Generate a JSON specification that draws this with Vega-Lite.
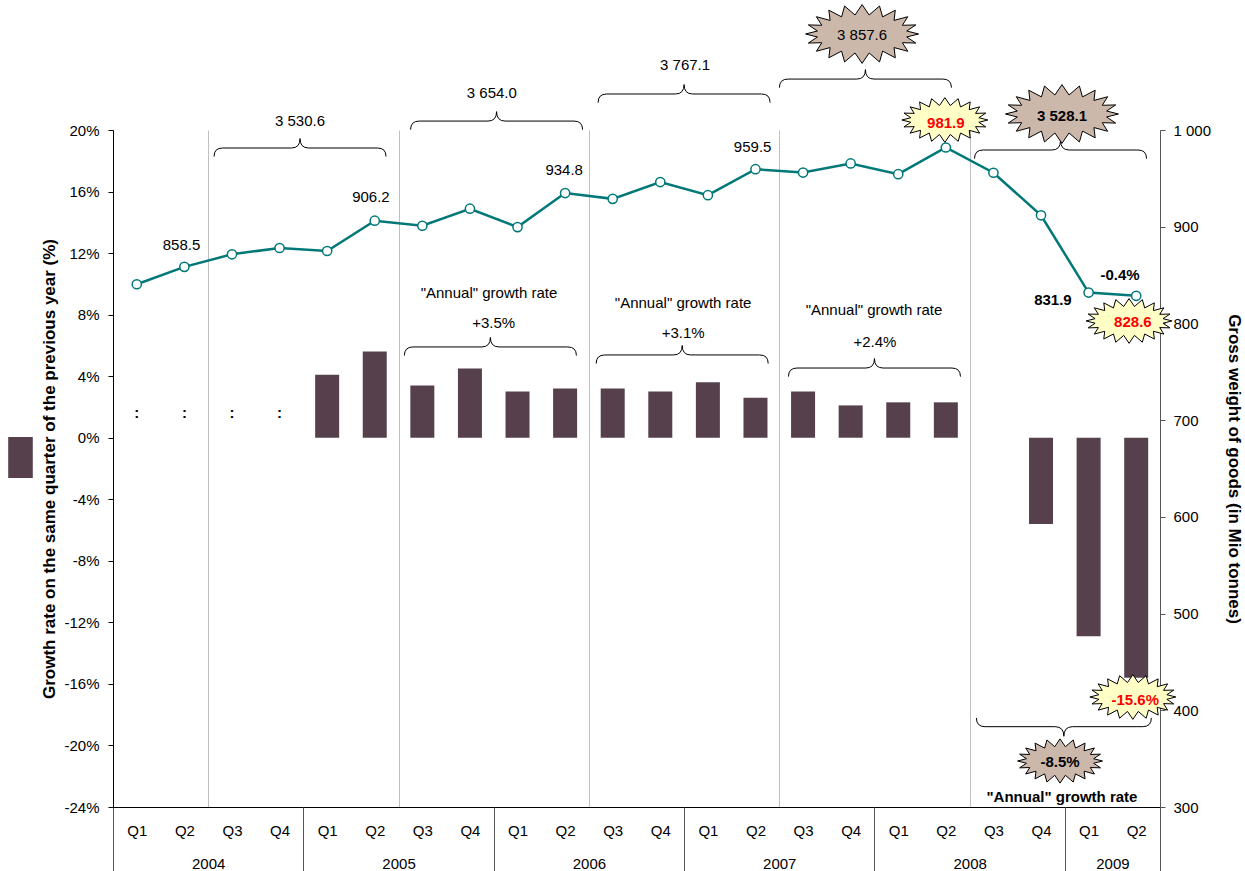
{
  "$schema": "https://vega.github.io/schema/vega-lite/v6.json",
  "width": 1047,
  "height": 677,
  "autosize": {"type": "none"},
  "padding": {"left": 113, "top": 130, "right": 85, "bottom": 64},
  "background": "white",
  "config": {
    "font": "Liberation Sans",
    "view": {"stroke": null},
    "scale": {"continuousPadding": 0},
    "axis": {"labelFont": "Liberation Sans", "titleFont": "Liberation Sans", "labelFontSize": 15, "labelColor": "#000000", "titleColor": "#000000"}
  },
  "datasets": {
    "quarters": [
      {"t": 0, "year": 2004, "q": "Q1", "growth": null, "weight": 840.5},
      {"t": 1, "year": 2004, "q": "Q2", "growth": null, "weight": 858.5},
      {"t": 2, "year": 2004, "q": "Q3", "growth": null, "weight": 871.5},
      {"t": 3, "year": 2004, "q": "Q4", "growth": null, "weight": 878.0},
      {"t": 4, "year": 2005, "q": "Q1", "growth": 4.1, "weight": 874.9},
      {"t": 5, "year": 2005, "q": "Q2", "growth": 5.6, "weight": 906.2},
      {"t": 6, "year": 2005, "q": "Q3", "growth": 3.4, "weight": 901.0},
      {"t": 7, "year": 2005, "q": "Q4", "growth": 4.5, "weight": 918.6},
      {"t": 8, "year": 2006, "q": "Q1", "growth": 3.0, "weight": 899.6},
      {"t": 9, "year": 2006, "q": "Q2", "growth": 3.2, "weight": 934.8},
      {"t": 10, "year": 2006, "q": "Q3", "growth": 3.2, "weight": 928.8},
      {"t": 11, "year": 2006, "q": "Q4", "growth": 3.0, "weight": 946.2},
      {"t": 12, "year": 2007, "q": "Q1", "growth": 3.6, "weight": 932.6},
      {"t": 13, "year": 2007, "q": "Q2", "growth": 2.6, "weight": 959.5},
      {"t": 14, "year": 2007, "q": "Q3", "growth": 3.0, "weight": 956.0},
      {"t": 15, "year": 2007, "q": "Q4", "growth": 2.1, "weight": 965.4},
      {"t": 16, "year": 2008, "q": "Q1", "growth": 2.3, "weight": 954.3},
      {"t": 17, "year": 2008, "q": "Q2", "growth": 2.3, "weight": 981.9},
      {"t": 18, "year": 2008, "q": "Q3", "growth": 0.0, "weight": 955.8},
      {"t": 19, "year": 2008, "q": "Q4", "growth": -5.6, "weight": 911.8},
      {"t": 20, "year": 2009, "q": "Q1", "growth": -12.9, "weight": 831.9},
      {"t": 21, "year": 2009, "q": "Q2", "growth": -15.6, "weight": 828.6}
    ],
    "notes": [
      {"kind": "brace_up", "t": 3.43, "v": 18.83},
      {"kind": "brace_up", "t": 7.56, "v": 20.58},
      {"kind": "brace_up", "t": 11.5, "v": 22.34},
      {"kind": "brace_up", "t": 15.31, "v": 23.31},
      {"kind": "brace_up", "t": 19.41, "v": 18.7},
      {"kind": "brace_up", "t": 7.43, "v": 5.9},
      {"kind": "brace_up", "t": 11.46, "v": 5.38},
      {"kind": "brace_up", "t": 15.5, "v": 4.53},
      {"kind": "brace_down", "t": 19.48, "v": -18.78},
      {"kind": "star_tan_big", "t": 15.24, "v": 26.24},
      {"kind": "star_tan_big", "t": 19.44, "v": 21.04},
      {"kind": "star_tan", "t": 19.4, "v": -21.01},
      {"kind": "star_yellow", "t": 16.98, "v": 20.65},
      {"kind": "star_yellow", "t": 20.85, "v": 7.59},
      {"kind": "star_yellow", "t": 20.93, "v": -16.85},
      {"kind": "text", "t": 3.43, "v": 20.58, "label": "3 530.6"},
      {"kind": "text", "t": 7.46, "v": 22.42, "label": "3 654.0"},
      {"kind": "text", "t": 11.52, "v": 24.22, "label": "3 767.1"},
      {"kind": "text", "t": 15.24, "v": 26.2, "label": "3 857.6"},
      {"kind": "text", "t": 0.94, "v": 12.53, "label": "858.5"},
      {"kind": "text", "t": 4.92, "v": 15.66, "label": "906.2"},
      {"kind": "text", "t": 8.98, "v": 17.4, "label": "934.8"},
      {"kind": "text", "t": 12.94, "v": 18.92, "label": "959.5"},
      {"kind": "text", "t": 7.4, "v": 9.43, "label": "\"Annual\" growth rate"},
      {"kind": "text", "t": 7.5, "v": 7.48, "label": "+3.5%"},
      {"kind": "text", "t": 11.48, "v": 8.78, "label": "\"Annual\" growth rate"},
      {"kind": "text", "t": 11.48, "v": 6.81, "label": "+3.1%"},
      {"kind": "text", "t": 15.49, "v": 8.3, "label": "\"Annual\" growth rate"},
      {"kind": "text", "t": 15.51, "v": 6.24, "label": "+2.4%"},
      {"kind": "bold", "t": 19.44, "v": 20.91, "label": "3 528.1"},
      {"kind": "bold", "t": 19.4, "v": -21.08, "label": "-8.5%"},
      {"kind": "bold", "t": 19.44, "v": -23.35, "label": "\"Annual\" growth rate"},
      {"kind": "bold", "t": 19.25, "v": 8.95, "label": "831.9"},
      {"kind": "bold", "t": 20.66, "v": 10.58, "label": "-0.4%"},
      {"kind": "red", "t": 17.0, "v": 20.45, "label": "981.9"},
      {"kind": "red", "t": 20.93, "v": 7.52, "label": "828.6"},
      {"kind": "red", "t": 20.98, "v": -17.05, "label": "-15.6%"}
    ]
  },
  "resolve": {"scale": {"y": "independent"}, "axis": {"x": "independent", "y": "independent"}},
  "layer": [
    {
      "data": {"name": "quarters"},
      "mark": {"type": "bar", "size": 24, "orient": "vertical"},
      "encoding": {
        "x": {"field": "t", "type": "quantitative", "scale": {"domain": [-0.5, 21.5], "nice": false, "zero": false},
          "axis": {"orient": "bottom", "values": [0,1,2,3,4,5,6,7,8,9,10,11,12,13,14,15,16,17,18,19,20,21], "labelExpr": "'Q' + (datum.value % 4 + 1)", "ticks": false, "tickSize": 0, "labelPadding": 16, "labelFlush": false, "labelOverlap": false, "domainColor": "#000000", "grid": false, "title": null}},
        "y": {"field": "growth", "type": "quantitative", "scale": {"domain": [-24, 20], "nice": false, "zero": false},
          "axis": {"orient": "left", "values": [-24,-20,-16,-12,-8,-4,0,4,8,12,16,20], "labelExpr": "datum.value + '%'", "grid": false, "tickSize": 5, "labelPadding": 9, "domainColor": "#000000", "tickColor": "#000000", "title": "Growth rate on the same quarter of the previous year (%)", "titleFontSize": 17, "titleFontWeight": "bold", "titlePadding": 5}},
        "color": {"datum": "Growth rate on the same quarter of the previous year", "scale": {"range": ["#55404C"]},
          "legend": {"orient": "none", "legendX": -113, "legendY": 307, "title": null, "symbolType": "M-0.6 -1 L0.6 -1 L0.6 1 L-0.6 1 Z", "symbolSize": 1681, "symbolStrokeWidth": 0, "symbolOpacity": 1, "labelExpr": "''", "padding": 0}}
      }
    },
    {
      "data": {"name": "quarters"},
      "mark": {"type": "line", "color": "#007878", "strokeWidth": 2.5},
      "encoding": {
        "x": {"field": "t", "type": "quantitative", "scale": {"domain": [-0.5, 21.5], "nice": false, "zero": false},
          "axis": {"orient": "bottom", "values": [-0.5, 3.5, 7.5, 11.5, 15.5, 19.5, 21.5], "labels": false, "domain": false, "ticks": true, "tickSize": 66, "tickColor": "#555555", "grid": false, "title": null}},
        "y": {"field": "weight", "type": "quantitative", "scale": {"domain": [300, 1000], "nice": false, "zero": false},
          "axis": {"orient": "right", "values": [300,400,500,600,700,800,900,1000], "labelExpr": "replace(format(datum.value, ','), ',', ' ')", "grid": false, "tickSize": 5, "labelPadding": 8, "domainColor": "#555555", "tickColor": "#555555", "title": "Gross weight of goods (in Mio tonnes)", "titleFontSize": 17, "titleFontWeight": "bold", "titlePadding": 14}}
      }
    },
    {
      "data": {"name": "quarters"},
      "mark": {"type": "point", "shape": "circle", "filled": true, "fill": "white", "stroke": "#007878", "strokeWidth": 1.5, "size": 85, "opacity": 1},
      "encoding": {
        "x": {"field": "t", "type": "quantitative", "scale": {"domain": [-0.5, 21.5], "nice": false, "zero": false},
          "axis": {"orient": "bottom", "values": [1.5, 5.5, 9.5, 13.5, 17.5, 20.5], "labelExpr": "'' + (2004 + floor((datum.value + 0.5) / 4))", "ticks": false, "tickSize": 0, "domain": false, "labelPadding": 49, "labelFlush": false, "labelOverlap": false, "grid": true, "gridColor": {"condition": {"test": "datum.value > 20", "value": "transparent"}, "value": "#BFBFBF"}, "title": null}},
        "y": {"field": "weight", "type": "quantitative", "scale": {"domain": [300, 1000], "nice": false, "zero": false}, "axis": null}
      }
    },
    {
      "layer": [
        {
          "mark": {"type": "rule", "color": "#555555", "strokeWidth": 1},
          "encoding": {"y": {"datum": 0, "type": "quantitative", "scale": {"domain": [-24, 20], "nice": false, "zero": false}, "axis": null}}
        },
        {
          "data": {"name": "quarters"},
          "transform": [{"filter": "datum.growth == null"}],
          "mark": {"type": "text", "fontSize": 15, "fontWeight": "bold", "align": "center", "baseline": "middle", "color": "#000000"},
          "encoding": {
            "x": {"field": "t", "type": "quantitative", "scale": {"domain": [-0.5, 21.5], "nice": false, "zero": false}, "axis": null},
            "y": {"datum": 1.6, "type": "quantitative", "scale": {"domain": [-24, 20], "nice": false, "zero": false}, "axis": null},
            "text": {"value": ":"}
          }
        },
        {
          "data": {"name": "notes"},
          "transform": [{"filter": "datum.kind == 'brace_up'"}],
          "mark": {"type": "point", "shape": "M-1 0.1 Q-1 0 -0.9 0 L-0.1 0 Q0 0 0 -0.11 Q0 0 0.1 0 L0.9 0 Q1 0 1 0.1", "filled": false, "color": "#000000", "strokeWidth": 1, "size": 29584, "opacity": 1},
          "encoding": {
            "x": {"field": "t", "type": "quantitative", "scale": {"domain": [-0.5, 21.5], "nice": false, "zero": false}, "axis": null},
            "y": {"field": "v", "type": "quantitative", "scale": {"domain": [-24, 20], "nice": false, "zero": false}, "axis": null}
          }
        },
        {
          "data": {"name": "notes"},
          "transform": [{"filter": "datum.kind == 'brace_down'"}],
          "mark": {"type": "point", "shape": "M-1 -0.1 Q-1 0 -0.9 0 L-0.1 0 Q0 0 0 0.11 Q0 0 0.1 0 L0.9 0 Q1 0 1 -0.1", "filled": false, "color": "#000000", "strokeWidth": 1, "size": 30625, "opacity": 1},
          "encoding": {
            "x": {"field": "t", "type": "quantitative", "scale": {"domain": [-0.5, 21.5], "nice": false, "zero": false}, "axis": null},
            "y": {"field": "v", "type": "quantitative", "scale": {"domain": [-24, 20], "nice": false, "zero": false}, "axis": null}
          }
        },
        {
          "data": {"name": "notes"},
          "transform": [{"filter": "datum.kind == 'star_tan_big'"}],
          "mark": {"type": "point", "shape": "M1 0L0.79 0.053L0.951 0.161L0.713 0.154L0.809 0.306L0.566 0.24L0.588 0.421L0.363 0.303L0.309 0.495L0.125 0.336L0 0.52L-0.125 0.336L-0.309 0.495L-0.363 0.303L-0.588 0.421L-0.566 0.24L-0.809 0.306L-0.713 0.154L-0.951 0.161L-0.79 0.053L-1 0L-0.79 -0.053L-0.951 -0.161L-0.713 -0.154L-0.809 -0.306L-0.566 -0.24L-0.588 -0.421L-0.363 -0.303L-0.309 -0.495L-0.125 -0.336L0 -0.52L0.125 -0.336L0.309 -0.495L0.363 -0.303L0.588 -0.421L0.566 -0.24L0.809 -0.306L0.713 -0.154L0.951 -0.161L0.79 -0.053Z", "filled": true, "fill": "#CCB8AB", "stroke": "#000000", "strokeWidth": 1, "size": 12769, "opacity": 1},
          "encoding": {
            "x": {"field": "t", "type": "quantitative", "scale": {"domain": [-0.5, 21.5], "nice": false, "zero": false}, "axis": null},
            "y": {"field": "v", "type": "quantitative", "scale": {"domain": [-24, 20], "nice": false, "zero": false}, "axis": null}
          }
        },
        {
          "data": {"name": "notes"},
          "transform": [{"filter": "datum.kind == 'star_tan'"}],
          "mark": {"type": "point", "shape": "M1 0L0.79 0.053L0.951 0.161L0.713 0.154L0.809 0.306L0.566 0.24L0.588 0.421L0.363 0.303L0.309 0.495L0.125 0.336L0 0.52L-0.125 0.336L-0.309 0.495L-0.363 0.303L-0.588 0.421L-0.566 0.24L-0.809 0.306L-0.713 0.154L-0.951 0.161L-0.79 0.053L-1 0L-0.79 -0.053L-0.951 -0.161L-0.713 -0.154L-0.809 -0.306L-0.566 -0.24L-0.588 -0.421L-0.363 -0.303L-0.309 -0.495L-0.125 -0.336L0 -0.52L0.125 -0.336L0.309 -0.495L0.363 -0.303L0.588 -0.421L0.566 -0.24L0.809 -0.306L0.713 -0.154L0.951 -0.161L0.79 -0.053Z", "filled": true, "fill": "#CCB8AB", "stroke": "#000000", "strokeWidth": 1, "size": 7225, "opacity": 1},
          "encoding": {
            "x": {"field": "t", "type": "quantitative", "scale": {"domain": [-0.5, 21.5], "nice": false, "zero": false}, "axis": null},
            "y": {"field": "v", "type": "quantitative", "scale": {"domain": [-24, 20], "nice": false, "zero": false}, "axis": null}
          }
        },
        {
          "data": {"name": "notes"},
          "transform": [{"filter": "datum.kind == 'star_yellow'"}],
          "mark": {"type": "point", "shape": "M1 0L0.79 0.053L0.951 0.161L0.713 0.154L0.809 0.306L0.566 0.24L0.588 0.421L0.363 0.303L0.309 0.495L0.125 0.336L0 0.52L-0.125 0.336L-0.309 0.495L-0.363 0.303L-0.588 0.421L-0.566 0.24L-0.809 0.306L-0.713 0.154L-0.951 0.161L-0.79 0.053L-1 0L-0.79 -0.053L-0.951 -0.161L-0.713 -0.154L-0.809 -0.306L-0.566 -0.24L-0.588 -0.421L-0.363 -0.303L-0.309 -0.495L-0.125 -0.336L0 -0.52L0.125 -0.336L0.309 -0.495L0.363 -0.303L0.588 -0.421L0.566 -0.24L0.809 -0.306L0.713 -0.154L0.951 -0.161L0.79 -0.053Z", "filled": true, "fill": "#FFFFC6", "stroke": "#000000", "strokeWidth": 1, "size": 7396, "opacity": 1},
          "encoding": {
            "x": {"field": "t", "type": "quantitative", "scale": {"domain": [-0.5, 21.5], "nice": false, "zero": false}, "axis": null},
            "y": {"field": "v", "type": "quantitative", "scale": {"domain": [-24, 20], "nice": false, "zero": false}, "axis": null}
          }
        },
        {
          "data": {"name": "notes"},
          "transform": [{"filter": "datum.kind == 'text'"}],
          "mark": {"type": "text", "fontSize": 15, "align": "center", "baseline": "middle", "color": "#000000"},
          "encoding": {
            "x": {"field": "t", "type": "quantitative", "scale": {"domain": [-0.5, 21.5], "nice": false, "zero": false}, "axis": null},
            "y": {"field": "v", "type": "quantitative", "scale": {"domain": [-24, 20], "nice": false, "zero": false}, "axis": null},
            "text": {"field": "label"}
          }
        },
        {
          "data": {"name": "notes"},
          "transform": [{"filter": "datum.kind == 'bold'"}],
          "mark": {"type": "text", "fontSize": 15, "fontWeight": "bold", "align": "center", "baseline": "middle", "color": "#000000"},
          "encoding": {
            "x": {"field": "t", "type": "quantitative", "scale": {"domain": [-0.5, 21.5], "nice": false, "zero": false}, "axis": null},
            "y": {"field": "v", "type": "quantitative", "scale": {"domain": [-24, 20], "nice": false, "zero": false}, "axis": null},
            "text": {"field": "label"}
          }
        },
        {
          "data": {"name": "notes"},
          "transform": [{"filter": "datum.kind == 'red'"}],
          "mark": {"type": "text", "fontSize": 15, "fontWeight": "bold", "align": "center", "baseline": "middle", "color": "#FF0000"},
          "encoding": {
            "x": {"field": "t", "type": "quantitative", "scale": {"domain": [-0.5, 21.5], "nice": false, "zero": false}, "axis": null},
            "y": {"field": "v", "type": "quantitative", "scale": {"domain": [-24, 20], "nice": false, "zero": false}, "axis": null},
            "text": {"field": "label"}
          }
        }
      ]
    }
  ]
}
